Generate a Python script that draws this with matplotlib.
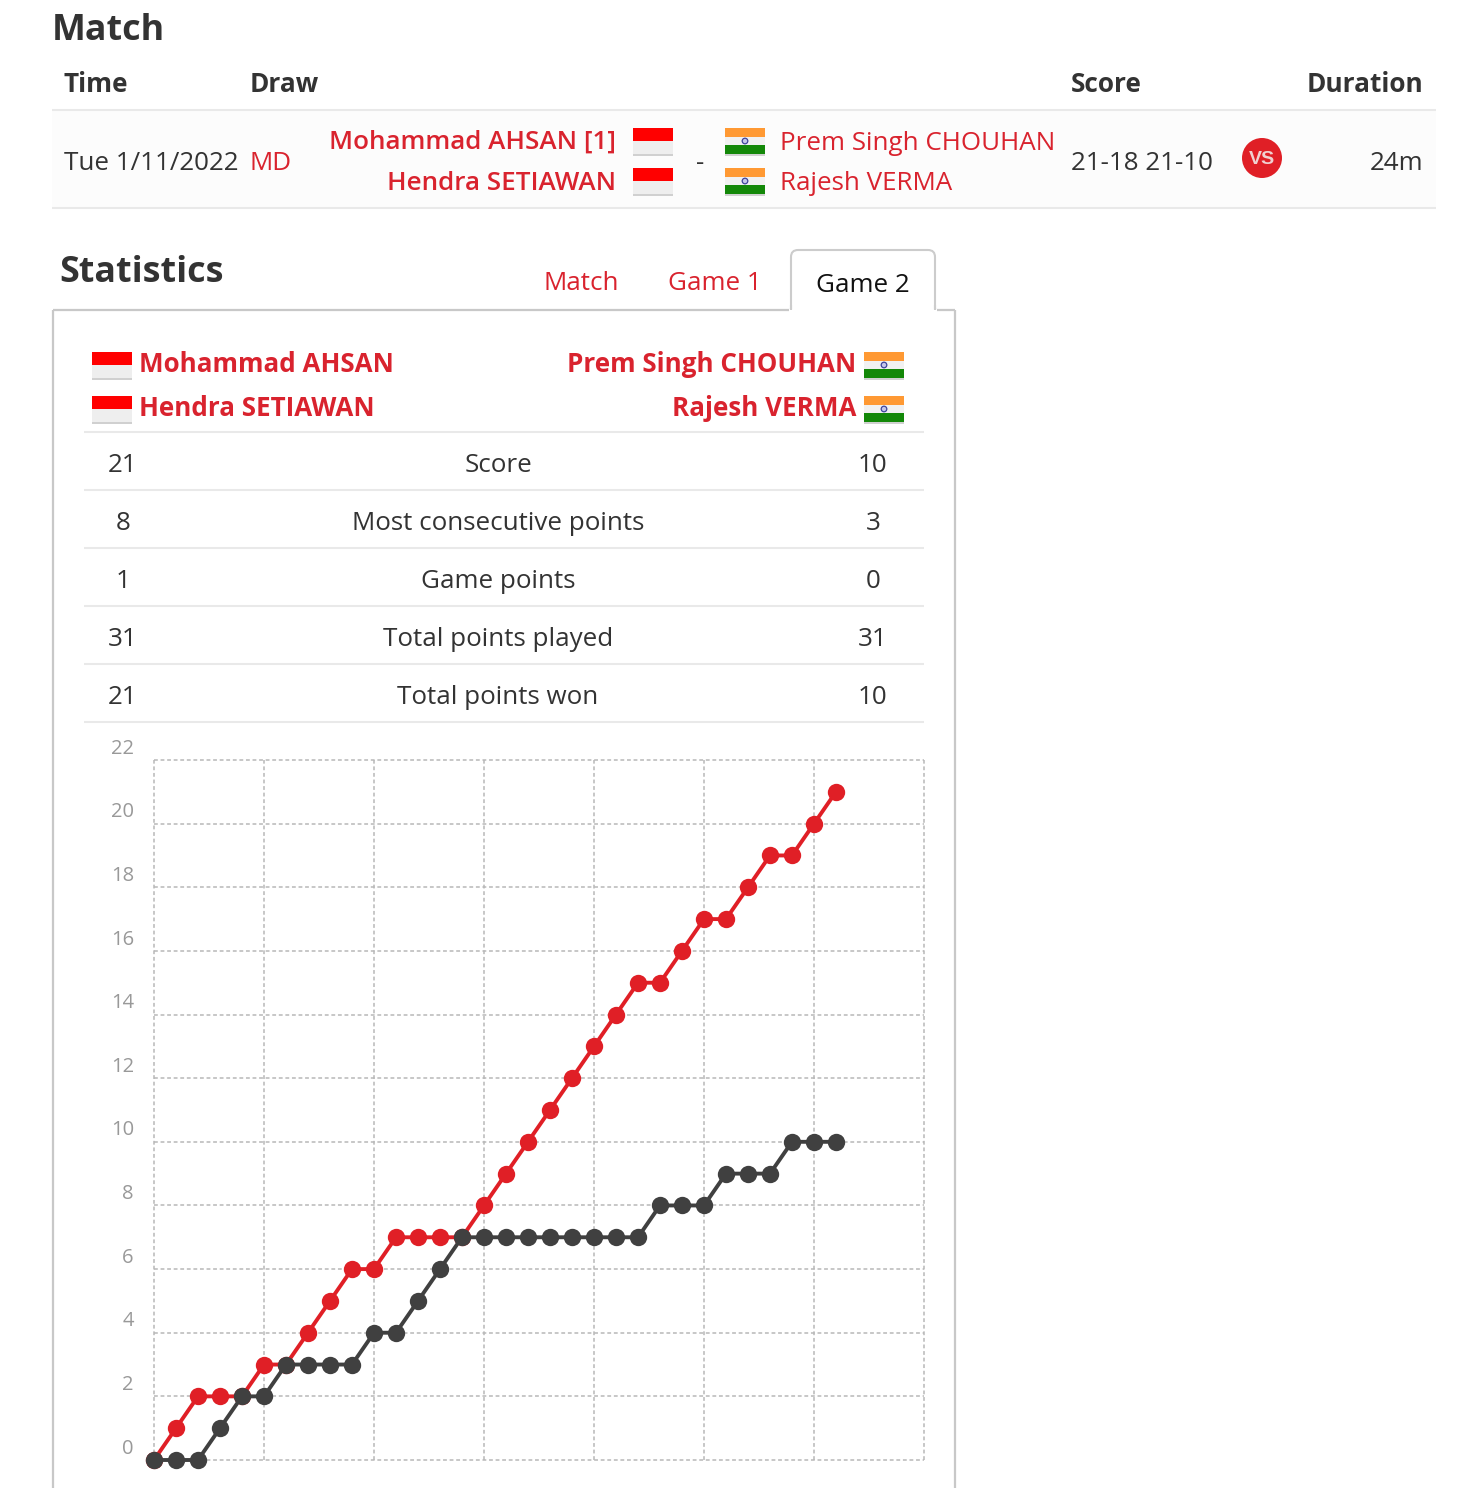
import matplotlib as mpl
mpl.use('Agg')
import matplotlib.pyplot as plt
from matplotlib.patches import Rectangle, Circle, FancyBboxPatch

plt.rcParams['font.family'] = ['Open Sans', 'DejaVu Sans']

RED = '#d9232e'
DARK = '#333333'
LINE_RED = '#e01f26'
LINE_DARK = '#404040'

headers = ['Time', 'Draw', 'Score', 'Duration']
stat_left = ['21', '8', '1', '31', '21']
stat_names = ['Score', 'Most consecutive points', 'Game points', 'Total points played', 'Total points won']
stat_right = ['10', '3', '0', '31', '10']
tabs = ['Match', 'Game 1', 'Game 2']

red_points = [0, 1, 2, 2, 2, 3, 3, 4, 5, 6, 6, 7, 7, 7, 7, 8, 9, 10, 11, 12, 13, 14, 15, 15, 16, 17, 17, 18, 19, 19, 20, 21]
dark_points = [0, 0, 0, 1, 2, 2, 3, 3, 3, 3, 4, 4, 5, 6, 7, 7, 7, 7, 7, 7, 7, 7, 7, 8, 8, 8, 9, 9, 9, 10, 10, 10]
y_ticks = [0, 2, 4, 6, 8, 10, 12, 14, 16, 18, 20, 22]
x_ticks = [0, 5, 10, 15, 20, 25, 30, 35]

W, H = 1466, 1488
fig = plt.figure(figsize=(W / 100, H / 100), dpi=100)

# page layer, in pixels
page = fig.add_axes([0, 0, 1, 1])
page.set_xlim(0, W)
page.set_ylim(H, 0)
page.axis('off')


def txt(x, y, s, size=18.7, color=DARK, weight='normal', ha='left'):
    page.text(x, y - 1, s, fontsize=size, color=color, fontweight=weight, ha=ha, va='center_baseline', zorder=5)


def hline(y, x0, x1, color='#e9e9e9', lw=1.5):
    page.plot([x0, x1], [y, y], color=color, lw=lw, solid_capstyle='butt')


def flag(x, y, top, bottom=None, w=40, h=26):
    page.add_patch(Rectangle((x, y + h - 1), w, 3, color='#d0d0d0', lw=0))
    if bottom is None:
        page.add_patch(Rectangle((x, y), w, h / 2, color='#ff0000', lw=0))
        page.add_patch(Rectangle((x, y + h / 2), w, h / 2, color='#eeeeee', lw=0))
    else:
        page.add_patch(Rectangle((x, y), w, h / 3, color=top, lw=0))
        page.add_patch(Rectangle((x, y + h / 3), w, h / 3, color='#f1f1f1', lw=0))
        page.add_patch(Rectangle((x, y + 2 * h / 3), w, h / 3, color=bottom, lw=0))
        page.add_patch(Circle((x + w / 2, y + h / 2), 2.8, fc='#c4c6ea', ec='#3f459c', lw=0.9))


def indo(x, y):
    flag(x, y, None)


def india(x, y):
    flag(x, y, '#ff9933', '#138808')


# match table
txt(52, 28, 'Match', size=25.8, weight='bold')
txt(64, 82, headers[0], size=18.9, weight='bold')
txt(250, 82, headers[1], size=18.9, weight='bold')
txt(1071, 82, headers[2], size=18.9, weight='bold')
txt(1423, 82, headers[3], size=18.9, weight='bold', ha='right')

page.add_patch(Rectangle((52, 110), 1384, 98, color='#fcfcfc', lw=0))
hline(110, 52, 1436)
hline(208, 52, 1436)

txt(64, 161, 'Tue 1/11/2022')
txt(250, 161, 'MD', color=RED)
txt(616, 140, 'Mohammad AHSAN [1]', color=RED, weight='semibold', ha='right')
txt(616, 181, 'Hendra SETIAWAN', color=RED, weight='semibold', ha='right')
indo(633, 128)
indo(633, 168)
txt(700, 161, '-', ha='center')
india(725, 128)
india(725, 168)
txt(780, 141, 'Prem Singh CHOUHAN', color=RED)
txt(780, 181, 'Rajesh VERMA', color=RED)
txt(1071, 161, '21-18 21-10')
page.add_patch(Circle((1262, 158), 20, color='#e01f26', lw=0))
page.text(1262, 159, 'VS', fontsize=14, color='#f0d0d0', fontweight='bold', ha='center', va='center',
          family=['Liberation Sans', 'DejaVu Sans'])
txt(1423, 161, '24m', ha='right')

# statistics header and tabs
txt(59, 270, 'Statistics', size=25.8, weight='bold')
txt(544, 281, tabs[0], color=RED)
txt(668, 281, tabs[1], color=RED)

# panel border
page.plot([53, 53], [H, 310], color='#c8c8c8', lw=1.6, solid_capstyle='butt')
page.plot([955, 955], [H, 310], color='#c8c8c8', lw=1.6, solid_capstyle='butt')
page.plot([53, 955], [310, 310], color='#c8c8c8', lw=1.6, solid_capstyle='butt')

# the active tab sits over the panel edge, its lower side covered
page.add_patch(FancyBboxPatch((791, 250), 144, 70, boxstyle='round,pad=0,rounding_size=7',
                              fc='white', ec='#cccccc', lw=1.5, zorder=3))
page.add_patch(Rectangle((789, 309), 148, 14, color='white', lw=0, zorder=3))
page.plot([791, 791], [305, 310], color='#cccccc', lw=1.5, zorder=4, solid_capstyle='butt')
page.plot([935, 935], [305, 310], color='#cccccc', lw=1.5, zorder=4, solid_capstyle='butt')
txt(816, 283, tabs[2], color='#111111')

indo(92, 352)
indo(92, 396)
txt(139, 363, 'Mohammad AHSAN', color=RED, weight='bold')
txt(139, 407, 'Hendra SETIAWAN', color=RED, weight='bold')
txt(856, 363, 'Prem Singh CHOUHAN', color=RED, weight='bold', ha='right')
txt(856, 407, 'Rajesh VERMA', color=RED, weight='bold', ha='right')
india(864, 352)
india(864, 396)

hline(432, 84, 924)
for i in range(len(stat_names)):
    y = 463 + 58 * i
    txt(123, y, stat_left[i], ha='center')
    txt(498, y, stat_names[i], ha='center')
    txt(873, y, stat_right[i], ha='center')
    hline(490 + 58 * i, 84, 924)

# score chart
ax = fig.add_axes([154 / W, 1 - 1460 / H, 770 / W, 700 / H])
ax.patch.set_alpha(0)
ax.set_xlim(0, 35)
ax.set_ylim(0, 22)
ax.set_xticks(x_ticks)
ax.set_yticks(y_ticks)
ax.grid(True, linestyle=(0, (2.5, 1.8)), color='#b8b8b8', linewidth=1.1, clip_on=False)
ax.set_axisbelow(True)
ax.tick_params(length=0, labelleft=False, labelbottom=False)
for spine in ax.spines.values():
    spine.set_visible(False)
for v in y_ticks:
    ax.annotate(str(v), (0, v), xytext=(-14.5, 8.2), textcoords='offset points', ha='right', va='center',
                fontsize=14.5, color='#999999', annotation_clip=False)

x = list(range(len(red_points)))
ax.plot(x, red_points, color=LINE_RED, lw=2.8, marker='o', ms=12.5, mew=0, clip_on=False, zorder=3)
ax.plot(x, dark_points, color=LINE_DARK, lw=2.8, marker='o', ms=12.5, mew=0, clip_on=False, zorder=4)

plt.savefig('out.png', dpi=100)
